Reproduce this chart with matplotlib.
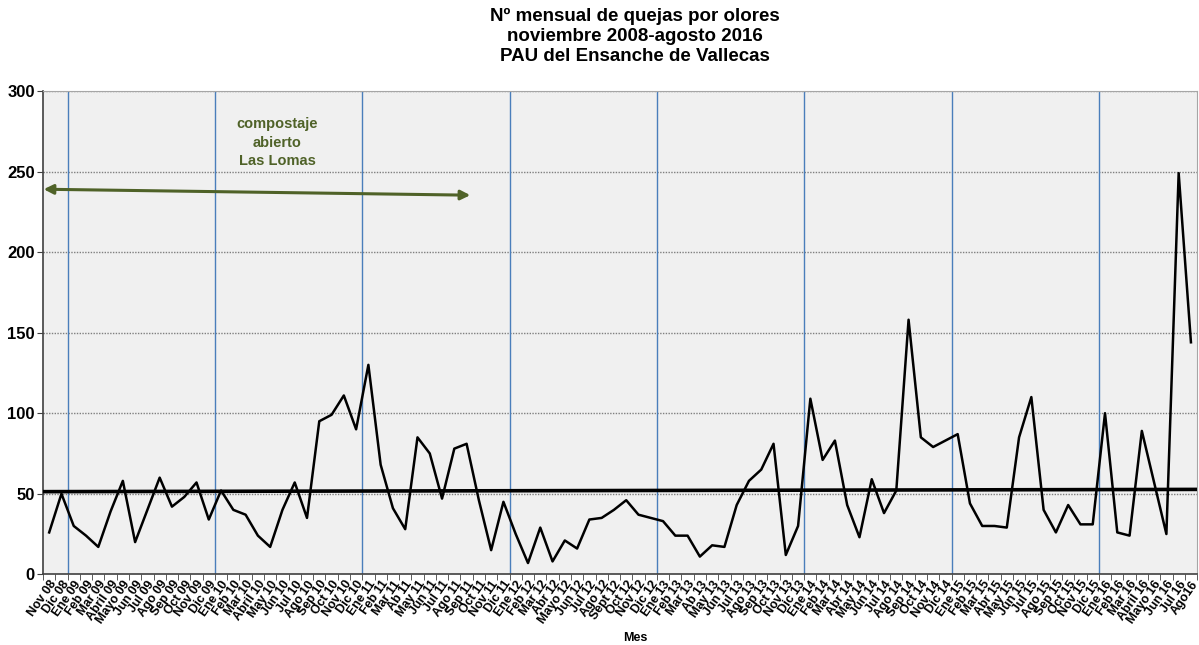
import matplotlib
matplotlib.use("Agg")
import matplotlib.pyplot as plt
import numpy as np

months = ["Nov 08", "Dic 08", "Ene 09", "Feb 09", "Mar 09", "Abril 09", "Mayo 09", "Jun 09", "Jul 09",
          "Ago 09", "Sep 09", "Oct 09", "Nov 09", "Dic 09", "Ene 10", "Feb 10", "Mar 10", "Abril 10",
          "May 10", "Jun 10", "Jul 10", "Ago 10", "Sep 10", "Oct 10", "Nov 10", "Dic 10", "Ene 11",
          "Feb 11", "Mar 11", "Ab 11", "May 11", "Jun 11", "Jul 11", "Ago 11", "Sep 11", "Oct 11",
          "Nov 11", "Dic 11", "Ene 12", "Feb 12", "Mar 12", "Abr 12", "Mayo 12", "Jun 12", "Jul 12",
          "Ago 12", "Sept 12", "Oct 12", "Nov 12", "Dic 12", "Ene 13", "Feb 13", "Mar 13", "Ab 13",
          "May 13", "Jun 13", "Jul 13", "Ago 13", "Sep 13", "Oct 13", "Nov 13", "Dic 13", "Ene 14",
          "Feb 14", "Mar 14", "Abr 14", "May 14", "Jun 14", "Jul 14", "Ago 14", "Sep 14", "Oct 14",
          "Nov 14", "Dic 14", "Ene 15", "Feb 15", "Mar 15", "Abr 15", "May 15", "Jun 15", "Jul 15",
          "Ago 15", "Sep 15", "Oct 15", "Nov 15", "Dic 15", "Ene 16", "Feb 16", "Mar 16", "Abril 16",
          "Mayo 16", "Jun 16", "Jul 16", "Ago16"]

quejas = [26, 50, 30, 24, 17, 39, 58, 20, 40, 60, 42, 48, 57, 34, 52, 40, 37, 24, 17, 40,
          57, 35, 95, 99, 111, 90, 130, 68, 41, 28, 85, 75, 47, 78, 81, 46, 15, 45, 25, 7,
          29, 8, 21, 16, 34, 35, 40, 46, 37, 35, 33, 24, 24, 11, 18, 17, 43, 58, 65, 81,
          12, 30, 109, 71, 83, 43, 23, 59, 38, 52, 158, 85, 79, 83, 87, 44, 30, 30, 29, 85,
          110, 40, 26, 43, 31, 31, 100, 26, 24, 89, 57, 25, 249, 144]

trend_ends = [51.3, 52.7]
year_start_labels = ["Ene 09", "Ene 10", "Ene 11", "Ene 12", "Ene 13", "Ene 14", "Ene 15", "Ene 16"]

title = "Nº mensual de quejas por olores\nnoviembre 2008-agosto 2016\nPAU del Ensanche de Vallecas"
note = "compostaje\nabierto\nLas Lomas"

plt.rcParams['font.family'] = ['Liberation Sans', 'DejaVu Sans']

fig = plt.figure(figsize=(11.99, 6.45), dpi=100)
ax = fig.add_axes([0.0359, 0.1096, 0.9625, 0.7494])
ax.set_facecolor("#f0f0f0")

x = np.arange(len(months))
n = len(months)

# gridlines
for yv in range(50, 301, 50):
    ax.axhline(yv, color="#7f7f7f", lw=1.0, ls=(0, (1, 1)), zorder=1)

# year separators (blue lines)
for lab in year_start_labels:
    i = months.index(lab)
    ax.axvline(i - 0.5, color="#4a7ebb", lw=1.0, zorder=2)

# trend / mean line
ax.plot([-0.5, n - 0.5], trend_ends, color="black", lw=2.6, zorder=3)

# data line
ax.plot(x, quejas, color="black", lw=1.8, zorder=4)

# arrow annotation
green = "#4f6228"
ax.annotate("", xy=(-0.45, 239), xytext=(34.3, 235.3),
            arrowprops=dict(arrowstyle="<|-|>", color=green, lw=2.2, mutation_scale=14,
                            shrinkA=0, shrinkB=0), zorder=5)
ax.text(18.6, 268, note, color=green, fontsize=10.5, fontweight="bold",
        ha="center", va="center", linespacing=1.45, zorder=6)

ax.set_xlim(-0.5, n - 0.5)
ax.set_ylim(0, 300)
ax.set_yticks(range(0, 301, 50))
ax.set_yticklabels([str(v) for v in range(0, 301, 50)], fontsize=12, fontweight="bold")

ax.set_xticks(x)
ax.set_xticklabels(months, rotation=55, ha="right", rotation_mode="anchor",
                   fontsize=9, fontweight="bold")
ax.set_xticks(np.arange(-0.5, n, 1.0), minor=True)
ax.tick_params(axis="x", which="major", length=0, pad=3)
ax.tick_params(axis="x", which="minor", length=4, color="#404040", direction="out")
ax.tick_params(axis="y", length=4, color="#404040", direction="out", pad=2)

for side in ["top", "right"]:
    ax.spines[side].set_color("#a6a6a6")
for side in ["left", "bottom"]:
    ax.spines[side].set_color("#404040")
    ax.spines[side].set_linewidth(1.2)

fig.text(0.5296, 0.988, title, ha="center", va="top", fontsize=13.5, fontweight="bold",
         linespacing=1.22)
fig.text(0.530, 0.002, "Mes", ha="center", va="bottom", fontsize=9, fontweight="bold")

fig.savefig("out.png", dpi=100)
